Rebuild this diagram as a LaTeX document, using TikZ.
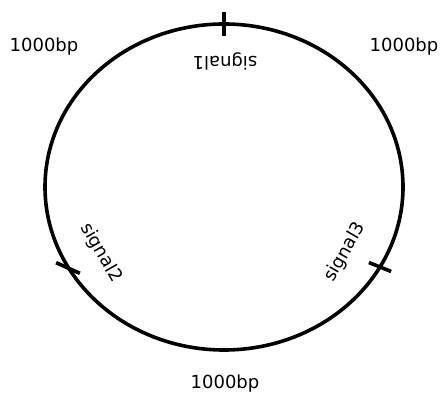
\documentclass[tikz,border=0pt]{standalone}
\usepackage{fontspec}
\setmainfont{DejaVu Sans}
\usetikzlibrary{calc}
\tikzset{
  % Anello del plasmide
  ring/.style={line width=3.6pt,black},
  tick mark/.style={line width=3.6pt,black},
  % Etichette
  bp label/.style={font=\fontsize{18}{20}\selectfont,anchor=base,inner sep=0pt},
  sig label/.style={font=\fontsize{18}{20}\selectfont,inner sep=0pt}
}

\begin{document}
\begin{tikzpicture}[x=1pt,y=1pt]
    \useasboundingbox (0,0) rectangle (444,394);
    \coordinate (C) at (224,207);
    \draw[ring] (C) ellipse [x radius=179, y radius=163];
    \coordinate (S1) at ($(C)+(90:179 and 163)$);
    \coordinate (S2) at (68,126);
    \coordinate (S3) at (380,127);
    \draw[tick mark] ($(S1)+(0,12)$)--($(S1)-(0,12)$);
    \draw[tick mark] ($(S2)+(156:13)$)--($(S2)+(-24:13)$);
    \draw[tick mark] ($(S3)+(158:12)$)--($(S3)+(-22:12)$);
    \node[sig label,rotate=180] (sig1) at (225,333){signal1};
    \node[sig label,rotate=-60] (sig2) at (101,141){signal2};
    \node[sig label,rotate=60] (sig3) at (345,142){signal3};
    \node[bp label] (bp nw) at (44,342){1000bp};
    \node[bp label] (bp ne) at (404,342){1000bp};
    \node[bp label] (bp s) at (225,6){1000bp};
  \end{tikzpicture}
\end{document}
